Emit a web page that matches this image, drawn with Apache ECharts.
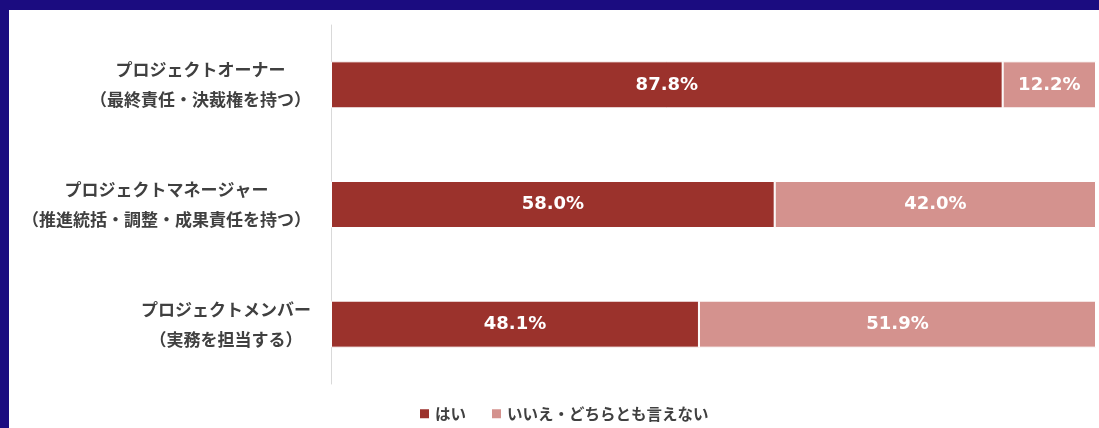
<!DOCTYPE html>
<html>
<head>
<meta charset="utf-8">
<script src="https://cdn.jsdelivr.net/npm/echarts@6/dist/echarts.min.js"></script>
<style>
  html, body { margin: 0; padding: 0; width: 1099px; height: 428px; overflow: hidden; background: #1b0c80; }
  #chart { position: absolute; left: 9px; top: 10px; width: 1090px; height: 418px; background: #ffffff; }
</style>
</head>
<body>
<div id="chart"></div>
<script>
// Role categories (two-line labels: role name / responsibility)
const categories = [
  ['プロジェクトオーナー', '（最終責任・決裁権を持つ）'],
  ['プロジェクトマネージャー', '（推進統括・調整・成果責任を持つ）'],
  ['プロジェクトメンバー', '（実務を担当する）']
];
const seriesNames = ['はい', 'いいえ・どちらとも言えない'];
const yesValues = [87.8, 58.0, 48.1];
const noValues = [12.2, 42.0, 51.9];

const labelSize = 17;
const ctx = document.createElement('canvas').getContext('2d');
ctx.font = 'bold ' + labelSize + 'px "Noto Sans CJK JP"';

// one rich style per category so both lines are centred inside a right-aligned block
const rich = {};
categories.forEach((lines, i) => {
  const w = Math.ceil(Math.max(...lines.map(t => ctx.measureText(t).width)));
  rich['c' + i] = {
    width: w,
    align: 'center',
    fontSize: labelSize,
    fontWeight: 'bold',
    fontFamily: '"Noto Sans CJK JP"',
    color: '#404040',
    lineHeight: 30
  };
});

const chart = echarts.init(document.getElementById('chart'), null, { renderer: 'canvas' });

const barLabel = {
  show: true,
  position: 'inside',
  color: '#ffffff',
  fontSize: 18,
  fontWeight: 'bold',
  fontFamily: '"DejaVu Sans"',
  formatter: p => p.value.toFixed(1) + '%'
};

chart.setOption({
  animation: false,
  grid: { left: 322, right: 3, top: 15, bottom: 44 },
  legend: {
    left: 409,
    top: 396,
    padding: 0,
    itemWidth: 11,
    itemHeight: 11,
    itemGap: 24,
    icon: 'rect',
    textStyle: {
      fontSize: 15.5,
      fontWeight: 'bold',
      fontFamily: '"Noto Sans CJK JP"',
      color: '#404040'
    },
    data: seriesNames
  },
  xAxis: {
    type: 'value',
    min: 0,
    max: 100,
    show: false
  },
  yAxis: {
    type: 'category',
    inverse: true,
    data: categories.map((_, i) => i),
    axisLine: { show: true, lineStyle: { color: '#d9d9d9', width: 1 } },
    axisTick: { show: false },
    splitLine: { show: false },
    axisLabel: {
      margin: 20,
      align: 'right',
      formatter: v => categories[v].map(t => '{c' + v + '|' + t + '}').join('\n'),
      rich: rich
    }
  },
  series: [
    {
      name: seriesNames[0],
      type: 'bar',
      stack: 'total',
      barWidth: 47,
      data: yesValues,
      itemStyle: { color: '#9b322c', borderColor: '#ffffff', borderWidth: 1 },
      label: barLabel
    },
    {
      name: seriesNames[1],
      type: 'bar',
      stack: 'total',
      barWidth: 47,
      data: noValues,
      itemStyle: { color: '#d4928e', borderColor: '#ffffff', borderWidth: 1 },
      label: barLabel
    }
  ]
});
</script>
</body>
</html>
